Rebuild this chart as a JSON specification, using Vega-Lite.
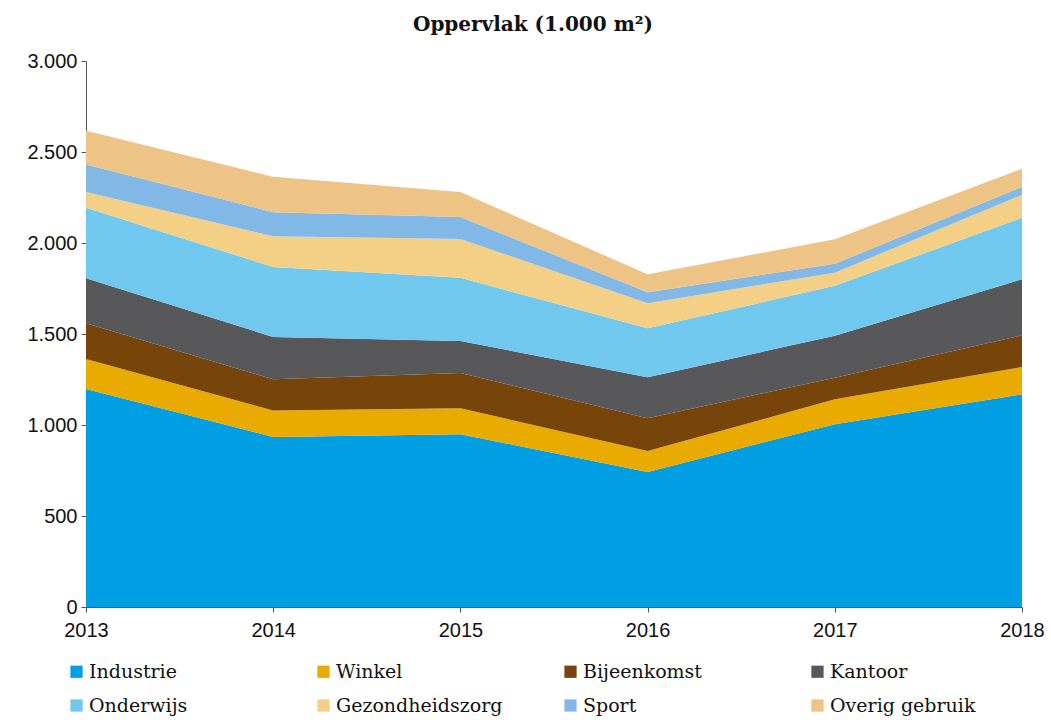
{
  "$schema": "https://vega.github.io/schema/vega-lite/v6.json",
  "width": 936,
  "height": 546,
  "autosize": {"type": "none"},
  "padding": {"left": 86, "top": 61, "right": 29, "bottom": 113},
  "background": "white",
  "title": {
    "text": "Oppervlak (1.000 m²)",
    "font": "DejaVu Serif",
    "fontSize": 20,
    "fontWeight": "bold",
    "color": "#111111",
    "anchor": "middle",
    "dx": -21,
    "offset": 16
  },
  "data": {
    "values": [
      {"jaar": 2013, "cat": "Industrie", "v": 1198},
      {"jaar": 2013, "cat": "Winkel", "v": 165},
      {"jaar": 2013, "cat": "Bijeenkomst", "v": 196},
      {"jaar": 2013, "cat": "Kantoor", "v": 247},
      {"jaar": 2013, "cat": "Onderwijs", "v": 388},
      {"jaar": 2013, "cat": "Gezondheidszorg", "v": 86},
      {"jaar": 2013, "cat": "Sport", "v": 152},
      {"jaar": 2013, "cat": "Overig gebruik", "v": 185},
      {"jaar": 2014, "cat": "Industrie", "v": 934},
      {"jaar": 2014, "cat": "Winkel", "v": 145},
      {"jaar": 2014, "cat": "Bijeenkomst", "v": 172},
      {"jaar": 2014, "cat": "Kantoor", "v": 233},
      {"jaar": 2014, "cat": "Onderwijs", "v": 384},
      {"jaar": 2014, "cat": "Gezondheidszorg", "v": 169},
      {"jaar": 2014, "cat": "Sport", "v": 132},
      {"jaar": 2014, "cat": "Overig gebruik", "v": 195},
      {"jaar": 2015, "cat": "Industrie", "v": 949},
      {"jaar": 2015, "cat": "Winkel", "v": 143},
      {"jaar": 2015, "cat": "Bijeenkomst", "v": 194},
      {"jaar": 2015, "cat": "Kantoor", "v": 176},
      {"jaar": 2015, "cat": "Onderwijs", "v": 347},
      {"jaar": 2015, "cat": "Gezondheidszorg", "v": 213},
      {"jaar": 2015, "cat": "Sport", "v": 121},
      {"jaar": 2015, "cat": "Overig gebruik", "v": 137},
      {"jaar": 2016, "cat": "Industrie", "v": 742},
      {"jaar": 2016, "cat": "Winkel", "v": 115},
      {"jaar": 2016, "cat": "Bijeenkomst", "v": 180},
      {"jaar": 2016, "cat": "Kantoor", "v": 225},
      {"jaar": 2016, "cat": "Onderwijs", "v": 269},
      {"jaar": 2016, "cat": "Gezondheidszorg", "v": 138},
      {"jaar": 2016, "cat": "Sport", "v": 60},
      {"jaar": 2016, "cat": "Overig gebruik", "v": 99},
      {"jaar": 2017, "cat": "Industrie", "v": 1004},
      {"jaar": 2017, "cat": "Winkel", "v": 137},
      {"jaar": 2017, "cat": "Bijeenkomst", "v": 119},
      {"jaar": 2017, "cat": "Kantoor", "v": 231},
      {"jaar": 2017, "cat": "Onderwijs", "v": 274},
      {"jaar": 2017, "cat": "Gezondheidszorg", "v": 72},
      {"jaar": 2017, "cat": "Sport", "v": 49},
      {"jaar": 2017, "cat": "Overig gebruik", "v": 134},
      {"jaar": 2018, "cat": "Industrie", "v": 1169},
      {"jaar": 2018, "cat": "Winkel", "v": 150},
      {"jaar": 2018, "cat": "Bijeenkomst", "v": 174},
      {"jaar": 2018, "cat": "Kantoor", "v": 308},
      {"jaar": 2018, "cat": "Onderwijs", "v": 338},
      {"jaar": 2018, "cat": "Gezondheidszorg", "v": 125},
      {"jaar": 2018, "cat": "Sport", "v": 45},
      {"jaar": 2018, "cat": "Overig gebruik", "v": 99}
    ]
  },
  "transform": [
    {"calculate": "indexof(['Industrie','Winkel','Bijeenkomst','Kantoor','Onderwijs','Gezondheidszorg','Sport','Overig gebruik'], datum.cat)", "as": "volgorde"}
  ],
  "mark": {"type": "area", "opacity": 1},
  "encoding": {
    "x": {
      "field": "jaar",
      "type": "quantitative",
      "scale": {"domain": [2013, 2018], "nice": false, "zero": false},
      "axis": {
        "title": null,
        "values": [2013, 2014, 2015, 2016, 2017, 2018],
        "format": "d",
        "grid": false,
        "domainColor": "#555555",
        "tickColor": "#555555",
        "tickSize": 5,
        "labelFont": "Liberation Sans",
        "labelFontSize": 20,
        "labelColor": "#111111",
        "labelPadding": 8,
        "labelFlush": false
      }
    },
    "y": {
      "field": "v",
      "type": "quantitative",
      "stack": "zero",
      "scale": {"domain": [0, 3000], "nice": false},
      "axis": {
        "title": null,
        "values": [0, 500, 1000, 1500, 2000, 2500, 3000],
        "format": ",.0f",
        "grid": false,
        "domainColor": "#555555",
        "tickColor": "#555555",
        "tickSize": 5,
        "labelFont": "Liberation Sans",
        "labelFontSize": 20,
        "labelColor": "#111111",
        "labelPadding": 4
      }
    },
    "order": {"field": "volgorde", "type": "quantitative", "sort": "ascending"},
    "color": {
      "field": "cat",
      "type": "nominal",
      "sort": ["Industrie", "Winkel", "Bijeenkomst", "Kantoor", "Onderwijs", "Gezondheidszorg", "Sport", "Overig gebruik"],
      "scale": {
        "domain": ["Industrie", "Winkel", "Bijeenkomst", "Kantoor", "Onderwijs", "Gezondheidszorg", "Sport", "Overig gebruik"],
        "range": ["#009FE3", "#E9AB00", "#77440A", "#58585A", "#70C8EF", "#F4CF86", "#82B8E6", "#EEC386"]
      },
      "legend": {
        "title": null,
        "orient": "none",
        "legendX": -19,
        "legendY": 601,
        "direction": "horizontal",
        "columns": 4,
        "gridAlign": "all",
        "columnPadding": 58,
        "rowPadding": 14,
        "symbolType": "square",
        "symbolSize": 150,
        "symbolStrokeWidth": 0,
        "labelFont": "DejaVu Serif",
        "labelFontSize": 19,
        "labelColor": "#111111",
        "labelOffset": 3,
        "labelLimit": 300
      }
    }
  },
  "config": {
    "view": {"stroke": null},
    "locale": {"number": {"decimal": ",", "thousands": ".", "grouping": [3], "currency": ["€", ""]}}
  }
}
